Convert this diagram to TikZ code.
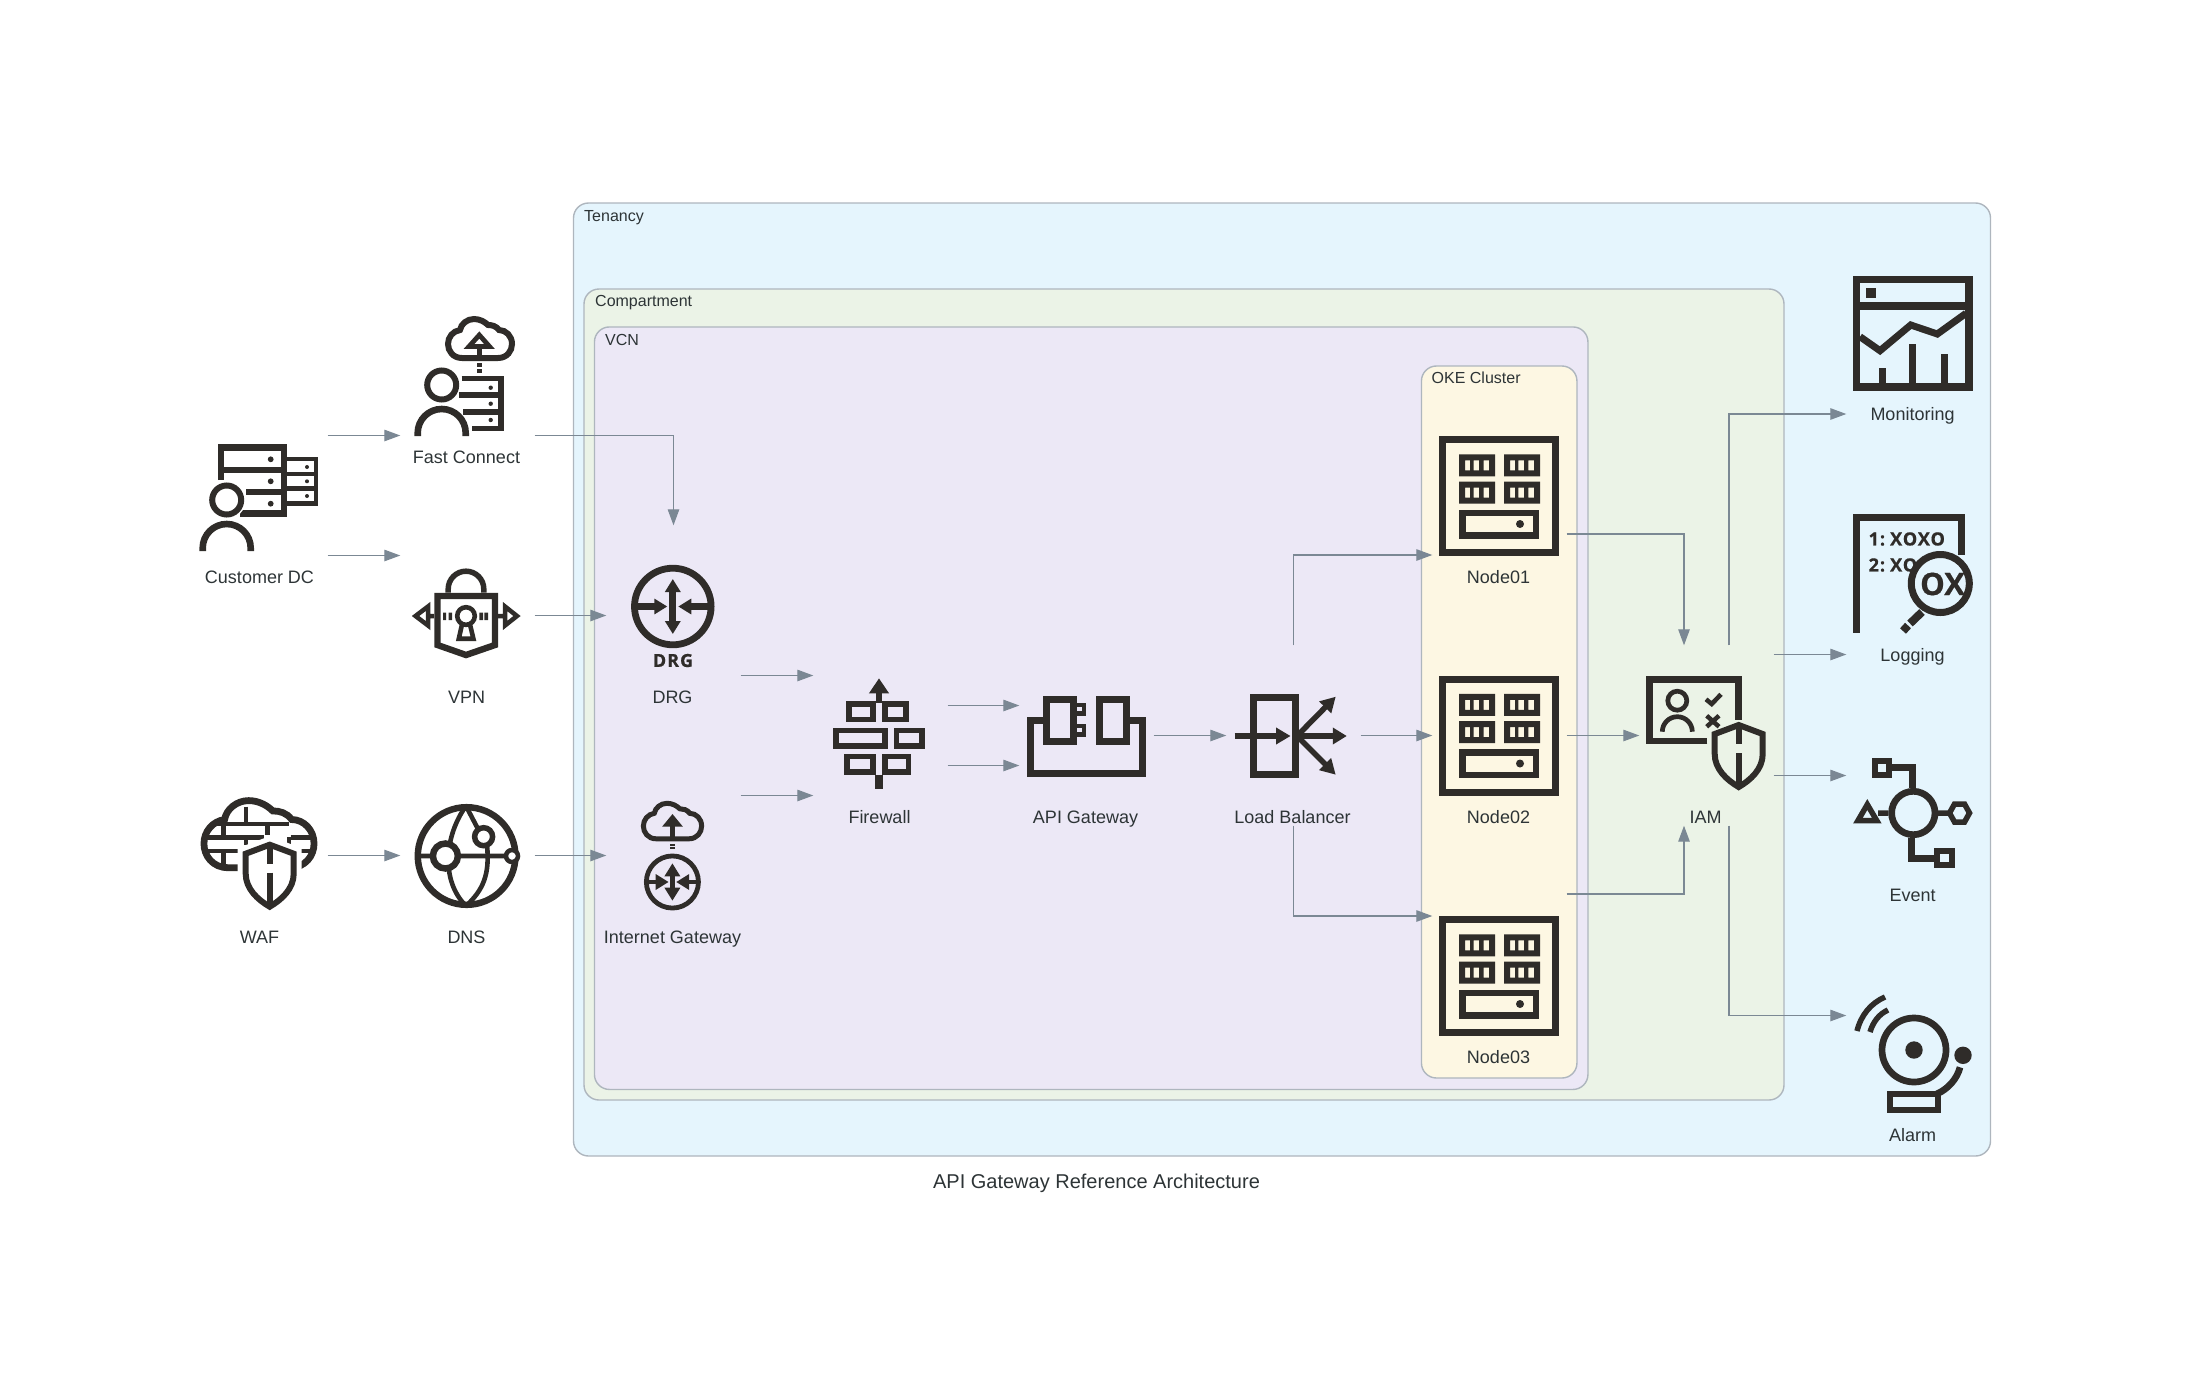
\documentclass[tikz,border=0pt]{standalone}
\usepackage{fontspec}
\usepackage{xcolor}
\usepackage{tikz}
\usetikzlibrary{arrows.meta, positioning}
\setmainfont{Liberation Sans}
\newfontfamily\glyphfont[LetterSpace=5, BoldFeatures={FakeBold=0.6}]{Open Sans}
\newfontfamily\lensfont[BoldFeatures={FakeBold=0.6}]{Open Sans}
\definecolor{tenancycol}{HTML}{E5F5FD}
\definecolor{compartmentcol}{HTML}{EBF3E7}
\definecolor{vcncol}{HTML}{ECE8F6}
\definecolor{okecol}{HTML}{FDF7E3}
\definecolor{bordercol}{HTML}{AEB6BE}
\definecolor{edgecol}{HTML}{7B8894}
\definecolor{textcol}{HTML}{2D3436}
\definecolor{iconcol}{HTML}{2F2C29}

% Icons that appear more than once
\tikzset{
    pics/person/.style={code={
        \draw[iconcol, line width=6pt] (0,0) circle[radius=14.5pt];
        \draw[iconcol, line width=6.6pt] (-24,51) -- (-24,48) arc[start angle=180, end angle=0, radius=24pt] -- (24,51);
    }},
    pics/cloud/.style={code={
        \draw[iconcol] (-18,19) -- (18,19) .. controls (27,19) and (32,12) .. (32,5)
            .. controls (32,-3) and (26,-9) .. (19,-9) .. controls (16,-13) and (12,-14) .. (8,-14)
            .. controls (5,-17) and (0,-20) .. (-6,-20) .. controls (-13,-20) and (-19,-15) .. (-20,-9)
            .. controls (-27,-8) and (-32,-2) .. (-32,5) .. controls (-32,12) and (-27,19) .. (-18,19) -- cycle;
    }},
    pics/shield/.style={code={
        \draw[iconcol, line width=6pt] (0,3) -- (24,12) -- (24,32) .. controls (24,47) and (12,58) .. (0,65)
            .. controls (-12,58) and (-24,47) .. (-24,32) -- (-24,12) -- cycle;
        \draw[iconcol, line width=6pt] (0,3) -- (0,22) (0,31) -- (0,64);
    }},
    pics/router/.style={code={
        \draw[iconcol] (0,0) circle[radius=38.3pt];
        \draw[iconcol, {Triangle[length=13pt, width=15pt]}-{Triangle[length=13pt, width=15pt]}] (0,-27.5) -- (0,27.5);
        \draw[iconcol, -{Triangle[length=13pt, width=15pt]}] (-38,0) -- (-5.5,0);
        \draw[iconcol, -{Triangle[length=13pt, width=15pt]}] (38,0) -- (5.5,0);
    }},
    pics/rack/.style={code={
        \fill[iconcol, even odd rule] (0,0) rectangle (36,22) (6,6) rectangle (11,16)
            (14.4,6) rectangle (20,16) (24.4,6) rectangle (30,16);
    }},
    pics/server/.style={code={
        \draw[iconcol, line width=7pt] (-56.5,-56.5) rectangle (56.5,56.5);
        \pic at (-39.8,-41.7) {rack};
        \pic at (5,-41.7) {rack};
        \pic at (-39.8,-14.3) {rack};
        \pic at (5,-14.3) {rack};
        \draw[iconcol, line width=6.5pt] (-36.5,17) rectangle (37.2,39.5);
        \fill[iconcol] (21,28) circle[radius=4pt];
    }}
}

\begin{document}
\begin{tikzpicture}[
        x=1pt, y=-1pt,
        cluster/.style={rectangle, rounded corners=15pt, draw=bordercol, line width=1.4pt, inner sep=0pt},
        clabel/.style={anchor=west, inner sep=0pt, text height=11.5pt, text depth=0pt, text=textcol, font=\fontsize{16}{18}\selectfont},
        comp/.style={rectangle, minimum width=134pt, minimum height=180pt, inner sep=0pt},
        lbl/.style={xshift=-1pt, yshift=-81pt, inner sep=0pt, text height=13pt, text depth=0pt, text=textcol, font=\fontsize{18}{20}\selectfont},
        arrow/.style={-{Triangle[length=16pt, width=11.5pt]}, line width=1.2pt, color=edgecol}
    ]
    \useasboundingbox (0,0) rectangle (2193,1392);

    % Clusters
    \node[cluster, fill=tenancycol, minimum width=1417pt, minimum height=953pt] (tenancy) at (1282,679.5) {};
    \node[cluster, fill=compartmentcol, minimum width=1200pt, minimum height=811pt] (compartment) at (1184,694.5) {};
    \node[cluster, fill=vcncol, minimum width=993.5pt, minimum height=762.5pt] (vcn) at (1091.2,708.2) {};
    \node[cluster, fill=okecol, minimum width=155.5pt, minimum height=712pt] (oke) at (1499.2,722) {};
    \node[clabel] (tenancy_label) at (584,215.5) {Tenancy};
    \node[clabel] (compartment_label) at (595,301) {Compartment};
    \node[clabel] (vcn_label) at (605,340) {VCN};
    \node[clabel] (oke_label) at (1431.5,377.5) {OKE Cluster};

    % Title
    \node[inner sep=0pt, text height=14.4pt, text depth=0pt, text=textcol, font=\fontsize{20}{22}\selectfont] (title) at (1096.5,1181) {API Gateway Reference Architecture};

    % Outside the tenancy
    \node[comp, label={[lbl]center:Customer DC}] (customer_dc) at (260.5,495.5) {};
    \node[comp, label={[lbl]center:Fast Connect}] (fast_connect) at (467.5,375.5) {};
    \node[comp, label={[lbl]center:VPN}] (vpn) at (467.5,615.5) {};
    \node[comp, label={[lbl]center:WAF}] (waf) at (260.5,855.5) {};
    \node[comp, label={[lbl]center:DNS}] (dns) at (467.5,855.5) {};

    % Inside the VCN
    \node[comp, label={[lbl]center:DRG}] (drg) at (673.5,615.5) {};
    \node[comp, label={[lbl]center:Internet Gateway}] (internet_gw) at (673.5,855.5) {};
    \node[comp, label={[lbl]center:Firewall}] (firewall) at (880.5,735.5) {};
    \node[comp, label={[lbl]center:API Gateway}] (api_gw) at (1086.5,735.5) {};
    \node[comp, label={[lbl]center:Load Balancer}] (load_balancer) at (1293.5,735.5) {};
    \node[comp, label={[lbl]center:Node01}] (node01) at (1499.5,496) {};
    \node[comp, label={[lbl]center:Node02}] (node02) at (1499.5,735.5) {};
    \node[comp, label={[lbl]center:Node03}] (node03) at (1499.5,976) {};

    % Compartment and tenancy services
    \node[comp, label={[lbl]center:IAM}] (iam) at (1706.5,735.5) {};
    \node[comp, label={[lbl]center:Monitoring}] (monitoring) at (1913.5,333) {};
    \node[comp, label={[lbl]center:Logging}] (logging) at (1913.5,573.5) {};
    \node[comp, label={[lbl]center:Event}] (event) at (1913.5,813.5) {};
    \node[comp, label={[lbl]center:Alarm}] (alarm) at (1913.5,1053.5) {};

    % Customer DC icon
    \draw[iconcol, line width=6.5pt] (221,480) -- (221,447.6) -- (284,447.6) -- (284,513.7) -- (240,513.7);
    \draw[iconcol, line width=6.5pt] (221,470) -- (284,470) (246,492) -- (284,492);
    \draw[iconcol, line width=4.7pt] (284,459) -- (316,459) -- (316,503.4) -- (284,503.4) (284,474) -- (316,474) (284,488.7) -- (316,488.7);
    \fill[iconcol] (270.7,459.3) circle[radius=2.9pt] (270.7,481.3) circle[radius=2.9pt] (270.7,503.7) circle[radius=2.9pt];
    \fill[iconcol] (307,467) circle[radius=2pt] (307,481.3) circle[radius=2pt] (307,496) circle[radius=2pt];
    \fill[white] (226.7,500) circle[radius=19pt];
    \pic at (226.7,500) {person};

    % Fast Connect icon
    \pic at (441.7,385) {person};
    \draw[iconcol, line width=5.6pt] (461.7,378.3) -- (501,378.3) -- (501,428.3) -- (471.7,428.3) (459.3,395) -- (501,395) (463.3,411.7) -- (501,411.7);
    \fill[iconcol] (490.7,387.7) circle[radius=2.2pt] (490.7,403.7) circle[radius=2.2pt] (490.7,420) circle[radius=2.2pt];
    \pic[line width=6pt] at (480,339) {cloud};
    \draw[iconcol, line width=4.8pt] (479.3,335) -- (489.5,346.5) -- (469,346.5) -- cycle;
    \draw[iconcol, line width=5.5pt] (479.3,349) -- (479.3,360) (479.3,363.3) -- (479.3,366.7) (479.3,369.3) -- (479.3,373.3);

    % VPN icon
    \draw[iconcol, line width=5.5pt] (448.2,592.7) -- (448.2,589) arc[start angle=180, end angle=0, radius=17.8pt] -- (483.8,592.7);
    \draw[iconcol, line width=6.4pt] (437.5,596) -- (495,596) -- (495,645) -- (466,655) -- (437.5,645) -- cycle;
    \draw[iconcol, line width=4.6pt] (466,616) circle[radius=8.8pt];
    \draw[iconcol, line width=4.6pt, line join=miter] (462,624.5) -- (458.8,638.7) -- (473.4,638.7) -- (470,624.5);
    \fill[iconcol] (443.2,612.7) rectangle (446,620) (448.6,612.7) rectangle (452,620) (479.3,612.7) rectangle (483,620) (484.3,612.7) rectangle (488,620);
    \draw[iconcol, line width=4.5pt] (434,616) -- (428,616) (428,606.5) -- (415.5,616) -- (428,625.5) -- cycle;
    \draw[iconcol, line width=4.5pt] (498,616) -- (505,616) (505,606.5) -- (517,616) -- (505,625.5) -- cycle;

    % WAF icon
    \pic[line width=6.8pt, scale=1.72] at (259,835) {cloud};
    \draw[iconcol, line width=4.6pt] (246,806.7) -- (246,824) (215.7,824) -- (289,824) (205,837.7) -- (264,837.7) (290.7,837.7) -- (314,837.7) (223.6,824) -- (223.6,837.7) (267.5,824) -- (267.5,835) (246,837.7) -- (246,845) (289,836.7) -- (289,845) (206.8,851) -- (239,851) (299.6,851) -- (310.4,851) (223.6,851) -- (223.6,868);
    \draw[white, fill=white, line width=16pt] (269.7,844.7) -- (293.7,853.7) -- (293.7,873.7) .. controls (293.7,888.7) and (281.7,899.7) .. (269.7,906.7) .. controls (257.7,899.7) and (245.7,888.7) .. (245.7,873.7) -- (245.7,853.7) -- cycle;
    \pic at (269.7,841.7) {shield};

    % DNS icon
    \draw[iconcol, line width=6.5pt] (466.6,856) circle[radius=48.8pt];
    \draw[iconcol, line width=4.6pt] (466,806) .. controls (445,835) and (440,880) .. (466,906) (487,845) .. controls (490,875) and (483,890) .. (466,906) (466,806) -- (478,829) (418,856) -- (510,856);
    \draw[iconcol, fill=white, line width=6.5pt] (445.4,856) circle[radius=12.5pt];
    \draw[iconcol, fill=white, line width=5.5pt] (483.6,836.7) circle[radius=9pt];
    \draw[iconcol, fill=white, line width=4.5pt] (512,856) circle[radius=6pt];

    % DRG icon
    \pic[line width=6.8pt] at (672.8,606.5) {router};
    \node[inner sep=0pt, text=iconcol, font=\glyphfont\bfseries\fontsize{18}{18}\selectfont] (drg_glyph) at (673,660.5) {D\kern1pt R\kern1pt G};

    % Internet Gateway icon
    \pic[line width=5pt, scale=0.91] at (672.5,821.5) {cloud};
    \draw[iconcol, line width=5pt, -{Triangle[length=12.7pt, width=20pt]}] (672.5,841) -- (672.5,814);
    \draw[iconcol, line width=5.5pt] (672.5,843.8) -- (672.5,845.8) (672.5,847.4) -- (672.5,849.4);
    \pic[line width=4.8pt, scale=0.68] at (672.4,882) {router};

    % Firewall icon
    \draw[iconcol, line width=5.6pt, -{Triangle[length=15pt, width=19pt]}] (879,703) -- (879,678.3);
    \draw[iconcol, line width=5.7pt] (849,703.8) rectangle (873,719.5) (884.9,703.8) rectangle (906.3,719.5);
    \draw[iconcol, line width=5.7pt] (836.1,730.5) rectangle (884.9,746.2) (896.4,730.5) rectangle (921.9,746.2);
    \draw[iconcol, line width=5.7pt] (847.2,756.5) rectangle (873,772.2) (884.9,756.5) rectangle (908.6,772.2);
    \draw[iconcol, line width=7.4pt] (878.8,775) -- (878.8,789.3);

    % API Gateway icon
    \draw[iconcol, line width=7pt] (1046,720) -- (1030,720) -- (1030,773) -- (1142.4,773) -- (1142.4,720) -- (1129,720);
    \draw[iconcol, line width=7pt] (1046.5,699) rectangle (1073,741.3) (1099.8,699) rectangle (1126.5,741.3);
    \draw[iconcol, line width=4.5pt] (1075,704.9) rectangle (1083.8,713.6) (1075,726.2) rectangle (1083.8,734.5);

    % Load Balancer icon
    \draw[iconcol, line width=7pt] (1253,697.5) rectangle (1295,774.5);
    \draw[iconcol, line width=6pt, -{Triangle[length=14.6pt, width=16pt]}] (1234.7,736) -- (1290.6,736);
    \draw[iconcol, line width=6pt, -{Triangle[length=14pt, width=16pt]}] (1297,736) -- (1346.8,736);
    \draw[iconcol, line width=5.5pt, -{Triangle[length=15pt, width=16pt]}] (1297,736) -- (1335.7,696.7);
    \draw[iconcol, line width=5.5pt, -{Triangle[length=15pt, width=16pt]}] (1297,736) -- (1335.7,774.7);

    % Node icons
    \pic at (1499,496) {server};
    \pic at (1499,735.5) {server};
    \pic at (1499,976) {server};

    % IAM icon
    \draw[iconcol, line width=6.7pt] (1707.3,741) -- (1649.6,741) -- (1649.6,679.3) -- (1738.3,679.3) -- (1738.3,720);
    \draw[iconcol, line width=4.7pt] (1677.3,700.7) circle[radius=9.5pt];
    \draw[iconcol, line width=4.7pt] (1662.3,731.7) arc[start angle=180, end angle=0, radius=15pt];
    \draw[iconcol, line width=4.5pt] (1706,699.3) -- (1711.7,704) -- (1721,694.3) (1706.7,715.7) -- (1719,726.7) (1719,715.7) -- (1706.7,726.7);
    \pic at (1738.7,722) {shield};

    % Monitoring icon
    \draw[iconcol, line width=7.3pt] (1856.3,279.7) rectangle (1969,387) (1856.3,306) -- (1969,306);
    \fill[iconcol] (1865.7,288.3) rectangle (1875.7,298.3);
    \draw[iconcol, line width=7pt] (1860,336.7) -- (1880,350.7) -- (1910.7,325) -- (1937.3,334) -- (1966,313.3);
    \draw[iconcol, line width=7.3pt] (1882.3,368.3) -- (1882.3,385) (1912.7,344.3) -- (1912.7,385) (1944.3,354) -- (1944.3,385);

    % Logging icon
    \draw[iconcol, line width=7pt] (1856.7,632.7) -- (1856.7,517) -- (1961,517) -- (1961,555);
    \node[anchor=west, inner sep=0pt, text=iconcol, font=\glyphfont\bfseries\fontsize{18.2}{18}\selectfont] (log_line1) at (1868.4,539) {1:\kern5pt XOXO};
    \node[anchor=west, inner sep=0pt, text=iconcol, font=\glyphfont\bfseries\fontsize{18.2}{18}\selectfont] (log_line2) at (1868.4,565) {2:\kern5pt XO};
    \draw[iconcol, fill=tenancycol, line width=7pt] (1940.3,583.5) circle[radius=29pt];
    \node[inner sep=0pt, text=iconcol, font=\lensfont\bfseries\fontsize{31}{32}\selectfont] (lens_text) at (1942.5,584) {OX};
    \draw[iconcol, line width=8pt] (1922,612) -- (1910,623.5) (1908,625.5) -- (1903,631);

    % Event icon
    \draw[iconcol, line width=6.7pt] (1913.3,813) circle[radius=21.7pt];
    \draw[iconcol, line width=6pt] (1874.7,761.3) rectangle (1889.3,775.3) (1937,851.3) rectangle (1951.7,865.3);
    \draw[iconcol, line width=6.7pt] (1892.3,767.7) -- (1912.3,767.7) -- (1912.3,788) (1911.7,837.7) -- (1911.7,858.3) -- (1934,858.3);
    \draw[iconcol, line width=5.5pt] (1867.3,804.5) -- (1876.7,820.5) -- (1858,820.5) -- cycle (1878,813) -- (1888.3,813);
    \draw[iconcol, line width=5.5pt] (1949.5,813) -- (1954.5,804) -- (1964.5,804) -- (1969.5,813) -- (1964.5,822) -- (1954.5,822) -- cycle (1938,813) -- (1949,813);

    % Alarm icon
    \draw[iconcol, line width=6.7pt] (1914,1050) circle[radius=32pt];
    \fill[iconcol] (1914,1050) circle[radius=8.7pt] (1963,1055.3) circle[radius=8.7pt];
    \draw[iconcol, line width=6.3pt] (1889.7,1094) rectangle (1937.7,1109.7);
    \draw[iconcol, line width=6.7pt] (1936.7,1094) .. controls (1948,1089) and (1957,1079) .. (1960,1067.3);
    \draw[iconcol, line width=5.5pt] (1857,1031) .. controls (1861,1015) and (1871,1003) .. (1885,997) (1870,1032) .. controls (1873,1022) and (1879,1014) .. (1888,1010);

    % Customer and edge connections
    \draw[arrow] ([yshift=60]customer_dc.east) -- ([yshift=-60]fast_connect.west);
    \draw[arrow] ([yshift=-60]customer_dc.east) -- ([yshift=60]vpn.west);
    \draw[arrow] ([yshift=-60]fast_connect.east) -| (drg.north);
    \draw[arrow] (vpn) -- (drg);
    \draw[arrow] (waf) -- (dns);
    \draw[arrow] (dns) -- (internet_gw);

    % Through the VCN
    \draw[arrow] ([yshift=-60]drg.east) -- ([yshift=60]firewall.west);
    \draw[arrow] ([yshift=60]internet_gw.east) -- ([yshift=-60]firewall.west);
    \draw[arrow] ([yshift=30]firewall.east) -- ([yshift=30]api_gw.west);
    \draw[arrow] ([yshift=-30]firewall.east) -- ([yshift=-30]api_gw.west);
    \draw[arrow] (api_gw) -- (load_balancer);
    \draw[arrow] (load_balancer.north) |- ([yshift=-59]node01.west);
    \draw[arrow] (load_balancer) -- (node02);
    \draw[arrow] (load_balancer.south) |- ([yshift=60]node03.west);

    % Into IAM
    \draw[arrow] ([yshift=-38]node01.east) -| ([xshift=-22.5]iam.north);
    \draw[arrow] (node02) -- (iam);
    \draw[arrow] ([yshift=82]node03.east) -| ([xshift=-22.5]iam.south);

    % Out of IAM
    \draw[arrow] ([xshift=22.5]iam.north) |- ([yshift=-81]monitoring.west);
    \draw[arrow] ([yshift=81]iam.east) -- ([yshift=-81]logging.west);
    \draw[arrow] ([yshift=-40]iam.east) -- ([yshift=38]event.west);
    \draw[arrow] ([xshift=22.5]iam.south) |- ([yshift=38]alarm.west);

\end{tikzpicture}
\end{document}
